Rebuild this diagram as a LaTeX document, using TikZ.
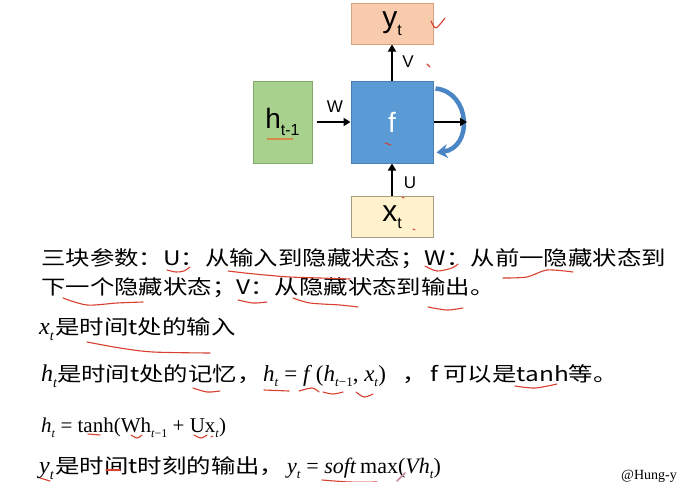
\documentclass[tikz,border=0pt]{standalone}
\usepackage{fontspec}
\setmainfont{Liberation Sans}
\newfontfamily\cjk[FakeStretch=1.22]{Noto Sans CJK SC}
\newfontfamily\tms{Liberation Serif}
\usetikzlibrary{arrows.meta}
\definecolor{yfill}{HTML}{F8CBAD}
\definecolor{ydraw}{HTML}{D4A27E}
\definecolor{ffill}{HTML}{5B9BD5}
\definecolor{fdraw}{HTML}{4A7FB5}
\definecolor{hfill}{HTML}{A9D18E}
\definecolor{hdraw}{HTML}{84A86C}
\definecolor{xfill}{HTML}{FFF2CC}
\definecolor{xdraw}{HTML}{A69C82}
\definecolor{loopblue}{HTML}{4A86C5}
\definecolor{pen}{HTML}{D8402F}
\definecolor{penor}{HTML}{D4884A}
\definecolor{cursor}{HTML}{C98A9A}
\newcommand\fs[1]{\fontsize{#1}{#1}\selectfont}
\newcommand\sbx[2]{\raisebox{-0.25em}{\fs{#1}#2}}
\tikzset{
  box/.style={draw, line width=1pt, rectangle, inner sep=0pt, minimum width=82pt},
  arr/.style={line width=2pt, -{Triangle[length=7pt,width=8pt]}},
  lbl/.style={inner sep=0pt, font=\fs{17}},
  txt/.style={anchor=base west, inner sep=0pt},
  ann/.style={pen, line width=1.1pt, line cap=round, line join=round},
}
\begin{document}
\begin{tikzpicture}[x=1pt,y=-1pt]
\useasboundingbox[fill=white] (0,0) rectangle (686,482);
% boxes
\node[box, fill=yfill, draw=ydraw, minimum height=41pt] (y) at (392,23.5) {\fs{30}y\sbx{16}{t}};
\node[box, fill=ffill, draw=fdraw, minimum height=82pt, text=white] (f) at (392,122) {\fs{28}f};
\node[box, fill=hfill, draw=hdraw, minimum width=59pt, minimum height=82pt] (h) at (282.5,122) {\fs{28}h\sbx{16}{t-1}};
\node[box, fill=xfill, draw=xdraw, minimum height=41pt] (x) at (392,217) {\fs{30}x\sbx{16}{t}};
\coordinate (out) at (467,122);
% arrows
\draw[loopblue, line width=4.5pt, -{Stealth[length=11pt,width=14pt]}]
  ([xshift=2pt,yshift=-8pt]f.north east) .. controls (471,92) and (473,148) .. ([xshift=3pt,yshift=-72pt]f.north east);
\draw[arr, shorten <=4pt] (h) -- (f);
\draw[arr] (f) -- (y);
\draw[arr] (x) -- (f);
\draw[arr] (f.east) -- (out);
% labels
\node[lbl] (W) at (335,107) {W};
\node[lbl] (V) at (408,62) {V};
\node[lbl] (U) at (410,183) {U};
% text lines
\node[txt] (l1) at (41,265) {\cjk\fs{20}三块参数：U：从输入到隐藏状态；W：从前一隐藏状态到};
\node[txt] (l2) at (41,294) {\cjk\fs{20}下一个隐藏状态；V：从隐藏状态到输出。};
\node[txt] (l3) at (39,334) {{\tms\itshape\fs{24}x\sbx{14}{t}}\,{\cjk\fs{20}是时间t处的输入}};
\node[txt] (l4) at (41,381) {{\tms\itshape\fs{24}h\sbx{14}{t}}{\cjk\fs{20}是时间t处的记忆，}};
\node[txt] (l4f) at (263,381) {\tms\fs{23}\textit{h}\sbx{13}{\textit{t}} = \textit{f}\,(\textit{h}\sbx{13}{\textit{t}−1}, \textit{x}\sbx{13}{\textit{t}})};
\node[txt] (l4c) at (402,381) {\cjk\fs{20}，};
\node[txt] (l4e) at (430,381) {\cjk\fs{20}f 可以是tanh等。};
\node[txt] (l5) at (41,432) {\tms\fs{21}\textit{h}\sbx{12}{\textit{t}} = tanh(Wh\sbx{12}{\textit{t}−1} + Ux\sbx{12}{\textit{t}})};
\node[txt] (l6) at (39,473) {{\tms\itshape\fs{24}y\sbx{14}{t}}\,{\cjk\fs{20}是时间t时刻的输出，}};
\node[txt] (l6f) at (287,473) {\tms\fs{22}\textit{y}\sbx{13}{\textit{t}} = \textit{soft}\,max(\textit{Vh}\sbx{13}{\textit{t}})};
\node[txt] (cr) at (621,479) {\tms\fs{14}@Hung-y};
% pen annotations
\draw[penor, line width=2pt] (267,139) -- (293,139);
\draw[ann] plot[smooth] coordinates {(431,21) (436,28) (445,18)};
\draw[ann] (427,64) -- (430,67);
\draw[ann] (385,143) -- (391,145);
\draw[ann] (413,229) -- (415,230);
\draw[ann] (402,197) -- (404,198);
\draw[ann] plot[smooth] coordinates {(167,270) (176,272) (184,271) (190,267)};
\draw[ann] plot[smooth] coordinates {(228,271) (245,273) (265,275) (290,277) (320,278) (350,279)};
\draw[ann] plot[smooth] coordinates {(425,266) (437,271) (452,268) (458,264)};
\draw[ann] plot[smooth] coordinates {(503,278) (527,277) (547,270) (573,272)};
\draw[ann] plot[smooth] coordinates {(63,298) (87,305) (117,303) (143,302)};
\draw[ann] plot[smooth] coordinates {(238,300) (253,303) (267,302)};
\draw[ann] plot[smooth] coordinates {(293,298) (310,303) (340,305) (358,307)};
\draw[ann] plot[smooth] coordinates {(428,307) (447,310) (463,308)};
\draw[ann] plot[smooth] coordinates {(87,342) (120,348) (153,352) (210,353)};
\draw[ann] plot[smooth] coordinates {(193,388) (207,392) (220,391)};
\draw[ann] (264,390) -- (289,391);
\draw[ann] plot[smooth] coordinates {(299,391) (312,388) (319,392)};
\draw[ann] plot[smooth] coordinates {(323,392) (333,394) (343,392)};
\draw[ann] plot[smooth] coordinates {(356,392) (364,397) (373,394)};
\draw[ann] plot[smooth] coordinates {(515,386) (535,388) (557,384)};
\draw[ann] (88,434) -- (100,435);
\draw[ann] plot[smooth] coordinates {(131,435) (137,438) (142,435)};
\draw[ann] plot[smooth] coordinates {(194,435) (201,438) (207,435)};
\draw[ann] (211,437) -- (213,436);
\draw[ann] (40,478) -- (50,481);
\draw[ann] (106,470) -- (120,470);
\draw[ann] plot[smooth] coordinates {(322,480) (350,482) (377,482)};
\draw[cursor, line width=1.5pt, line cap=round] (397,481) -- (405,473);
\end{tikzpicture}
\end{document}
